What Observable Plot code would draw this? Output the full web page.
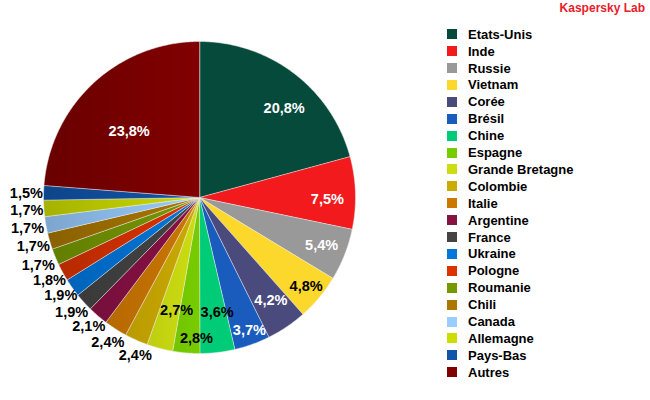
<!DOCTYPE html>
<html><head><meta charset="utf-8">
<script src="https://cdn.jsdelivr.net/npm/d3@7"></script>
<script src="https://cdn.jsdelivr.net/npm/@observablehq/plot@0.6"></script>
<style>
body{margin:0;background:#fff;}
#wrap{position:relative;width:650px;height:400px;font-family:"Liberation Sans",Arial,sans-serif;}
#chart{position:absolute;left:0;top:0;}
#brand{position:absolute;right:5px;top:1px;font-size:12px;font-weight:bold;color:#e8202a;line-height:14px;}
.row{position:absolute;left:447px;height:17px;line-height:17px;font-size:13px;font-weight:bold;color:#000;white-space:nowrap;}
.sw{position:absolute;left:0;top:3.5px;width:10px;height:10px;}
.lab{position:absolute;left:21px;top:0;}
</style></head><body>
<div id="wrap"><div id="chart"></div><div id="brand">Kaspersky Lab</div><div id="legend"></div></div>
<script>
const countries = ["Etats-Unis","Inde","Russie","Vietnam","Corée","Brésil","Chine","Espagne","Grande Bretagne","Colombie","Italie","Argentine","France","Ukraine","Pologne","Roumanie","Chili","Canada","Allemagne","Pays-Bas","Autres"];
const shares = [20.8,7.5,5.4,4.8,4.2,3.7,3.6,2.8,2.7,2.4,2.4,2.1,1.9,1.9,1.8,1.7,1.7,1.7,1.7,1.5,23.8];
const colors = ["#064a3c","#f21a1d","#999999","#fdd82c","#4a4a7c","#1a5bbe","#00cc77","#77cc00","#ccdd11","#ccaa00","#cc7700","#881144","#444444","#0077dd","#dd3300","#779900","#aa7700","#99ccff","#ccdd00","#1155aa","#820000"];
const labelInk = ["white","white","white","black","white","white","black","black","black","black","black","black","black","black","black","black","black","black","black","black","white"];
// label layout: radius (1 = pie edge) and position within slice angle
const labelRadius = [0.79,0.82,0.84,0.89,0.80,0.91,0.745,0.90,0.74,1.09,1.1,1.09,1.1,1.09,1.1,1.12,1.11,1.12,1.11,1.11,0.62];
const labelSpot = [0.58,0.6,0.49,0.5,0.44,0.44,0.34,0.14,0.16,0.3,0.47,0.5,0.55,0.5,0.45,0.45,0.5,0.5,0.45,0.45,0.455];

const fmt = v => v.toFixed(1).replace(".", ",") + "%";
const arcs = d3.pie().sort(null).value((d, i) => shares[i])(countries);

const slicePoints = [];
arcs.forEach((a, i) => {
  slicePoints.push({country: countries[i], x: 0, y: 0});
  const n = Math.max(2, Math.ceil((a.endAngle - a.startAngle) / (Math.PI / 360)));
  for (let k = 0; k <= n; k++) {
    const t = a.startAngle + (a.endAngle - a.startAngle) * k / n;
    slicePoints.push({country: countries[i], x: Math.sin(t), y: Math.cos(t)});
  }
});
const labels = arcs.map((a, i) => {
  const t = a.startAngle + (a.endAngle - a.startAngle) * labelSpot[i];
  return {text: fmt(shares[i]), ink: labelInk[i], x: labelRadius[i] * Math.sin(t), y: labelRadius[i] * Math.cos(t)};
});

const chart = Plot.plot({
  width: 650, height: 400, margin: 0,
  x: {domain: [-1, 1], range: [43, 355], axis: null},
  y: {domain: [-1, 1], range: [353, 41], axis: null},
  color: {domain: countries, range: colors},
  style: {fontFamily: '"Liberation Sans", Arial, sans-serif', background: "transparent", overflow: "visible"},
  marks: [
    Plot.line(slicePoints, {x: "x", y: "y", z: "country", fill: "country", stroke: "#eeeeee", strokeWidth: 0.5, curve: "linear-closed"}),
    Plot.text(labels, {filter: d => d.ink === "white", x: "x", y: "y", text: "text", fill: "white", fontSize: 14.5, fontWeight: "bold"}),
    Plot.text(labels, {filter: d => d.ink === "black", x: "x", y: "y", text: "text", fill: "black", fontSize: 14.5, fontWeight: "bold"})
  ]
});
document.getElementById("chart").appendChild(chart);

// horizontal shading on slices: darker toward the left edge of the pie
const ns = "http://www.w3.org/2000/svg";
const defs = document.createElementNS(ns, "defs");
chart.insertBefore(defs, chart.firstChild);
chart.querySelectorAll('g[aria-label="line"] path').forEach((p, i) => {
  const base = p.getAttribute("fill");
  if (!base || base === "none") return;
  const g = document.createElementNS(ns, "linearGradient");
  g.setAttribute("id", "shade" + i);
  g.setAttribute("gradientUnits", "userSpaceOnUse");
  g.setAttribute("x1", 43); g.setAttribute("x2", 199);
  g.setAttribute("y1", 0); g.setAttribute("y2", 0);
  const s0 = document.createElementNS(ns, "stop");
  s0.setAttribute("offset", "0"); s0.setAttribute("stop-color", d3.color(base).darker(0.6).formatHex());
  const s1 = document.createElementNS(ns, "stop");
  s1.setAttribute("offset", "1"); s1.setAttribute("stop-color", base);
  g.appendChild(s0); g.appendChild(s1);
  defs.appendChild(g);
  p.setAttribute("fill", "url(#shade" + i + ")");
});

// legend
const legend = document.getElementById("legend");
countries.forEach((c, i) => {
  const row = document.createElement("div");
  row.className = "row";
  row.style.top = (34.2 + i * 16.9 - 8.5) + "px";
  const sw = document.createElement("div");
  sw.className = "sw";
  sw.style.background = colors[i];
  const lab = document.createElement("div");
  lab.className = "lab";
  lab.textContent = c;
  row.appendChild(sw); row.appendChild(lab);
  legend.appendChild(row);
});
</script>
</body></html>
